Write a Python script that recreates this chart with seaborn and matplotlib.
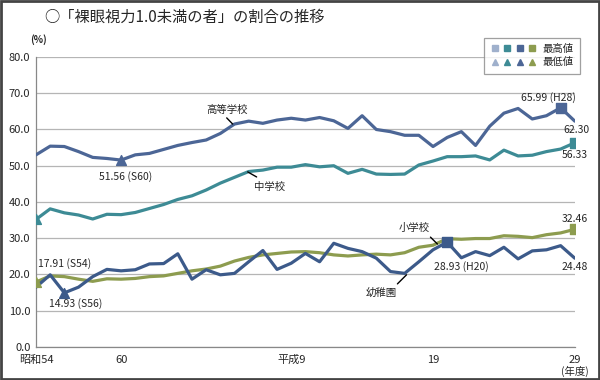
import pandas as pd
import numpy as np
import matplotlib
matplotlib.use('Agg')
import matplotlib.pyplot as plt
import seaborn as sns
from matplotlib.patches import Rectangle
from matplotlib.lines import Line2D
from matplotlib.legend_handler import HandlerTuple

# fiscal years S54 (1979) .. H29 (2017)
years = list(range(1979, 2018))

koko = [53.0, 55.4, 55.3, 53.9, 52.3, 52.0, 51.56, 53.0, 53.4, 54.5,
        55.6, 56.4, 57.1, 58.9, 61.5, 62.3, 61.7, 62.6, 63.1, 62.6,
        63.3, 62.4, 60.3, 63.8, 60.0, 59.4, 58.4, 58.4, 55.3, 57.8,
        59.4, 55.6, 60.9, 64.5, 65.8, 62.9, 63.8, 65.99, 62.30]
chugaku = [35.19, 38.1, 37.0, 36.4, 35.3, 36.6, 36.5, 37.1, 38.2, 39.3,
           40.7, 41.7, 43.3, 45.2, 46.8, 48.4, 48.8, 49.6, 49.6, 50.3,
           49.7, 50.0, 47.9, 49.0, 47.7, 47.6, 47.7, 50.2, 51.3, 52.5,
           52.5, 52.7, 51.6, 54.3, 52.7, 52.9, 53.9, 54.6, 56.33]
shogaku = [17.91, 19.6, 19.4, 18.7, 18.1, 18.8, 18.7, 18.9, 19.4, 19.6,
           20.3, 21.0, 21.5, 22.3, 23.7, 24.7, 25.4, 25.8, 26.2, 26.3,
           26.0, 25.4, 25.1, 25.4, 25.6, 25.4, 26.0, 27.5, 28.07, 29.87,
           29.71, 29.91, 29.91, 30.68, 30.52, 30.16, 30.97, 31.46, 32.46]
yochien = [16.5, 19.9, 14.93, 16.5, 19.4, 21.4, 21.0, 21.3, 22.9, 23.0,
           25.7, 18.7, 21.3, 19.9, 20.3, 23.5, 26.6, 21.4, 23.1, 25.8,
           23.5, 28.6, 27.2, 26.3, 24.5, 20.8, 20.3, 23.5, 26.8, 28.93,
           24.6, 26.3, 25.2, 27.5, 24.3, 26.5, 26.8, 27.94, 24.48]

schools = ['高等学校', '中学校', '小学校', '幼稚園']
colors = {'高等学校': '#4c6696', '中学校': '#3d8b95',
          '小学校': '#8d9c4f', '幼稚園': '#3c5a8a'}

df = pd.concat([
    pd.DataFrame({'year': years, 'value': koko, 'school': '高等学校'}),
    pd.DataFrame({'year': years, 'value': chugaku, 'school': '中学校'}),
    pd.DataFrame({'year': years, 'value': shogaku, 'school': '小学校'}),
    pd.DataFrame({'year': years, 'value': yochien, 'school': '幼稚園'}),
])

sns.set_style('white')
plt.rcParams['font.family'] = ['Noto Sans CJK JP', 'DejaVu Sans']

fig = plt.figure(figsize=(6, 3.8), dpi=100)
ax = fig.add_axes([0.06, 0.087, 0.898, 0.763])

sns.lineplot(data=df, x='year', y='value', hue='school', palette=colors,
             linewidth=2.3, legend=False, ax=ax, zorder=3)

# max (square) and min (triangle) markers
for s in schools:
    d = df[df['school'] == s]
    hi = d.loc[d['value'].idxmax()]
    lo = d.loc[d['value'].idxmin()]
    ax.scatter(hi['year'], hi['value'], marker='s', s=45, color=colors[s], zorder=4)
    ax.scatter(lo['year'], lo['value'], marker='^', s=50, color=colors[s], zorder=4)

ax.set_xlim(1979, 2017)
ax.set_ylim(0, 80)
ax.set_yticks(np.arange(0, 81, 10))
ax.set_yticklabels([f'{v:.1f}' for v in np.arange(0, 81, 10)], fontsize=8)
ax.set_xticks([1979, 1985, 1997, 2007, 2017])
ax.set_xticklabels(['昭和54', '60', '平成9', '19', '29'], fontsize=8)
ax.set_xticks(years, minor=True)
ax.tick_params(axis='x', which='both', direction='out', length=4, color='#888888',
               width=0.8, pad=1.5)
ax.tick_params(axis='y', length=0, pad=4)
ax.yaxis.grid(True, color='#b5b5b5', linewidth=0.9)
ax.set_axisbelow(True)
ax.set_xlabel('')
ax.set_ylabel('')
for side in ['top', 'right']:
    ax.spines[side].set_visible(False)
for side in ['left', 'bottom']:
    ax.spines[side].set_color('#888888')
    ax.spines[side].set_linewidth(0.9)

# value labels
fs = 7.5
ax.text(1985.3, 46.9, '51.56 (S60)', fontsize=fs, ha='center', va='center')
ax.text(2017.05, 68.7, '65.99 (H28)', fontsize=fs, ha='right', va='center')
ax.text(2017.1, 59.9, '62.30', fontsize=fs, ha='center', va='center')
ax.text(2017.0, 53.0, '56.33', fontsize=fs, ha='center', va='center')
ax.text(1979.14, 22.9, '17.91 (S54)', fontsize=fs, ha='left', va='center')
ax.text(1979.93, 11.9, '14.93 (S56)', fontsize=fs, ha='left', va='center')
ax.text(2007.1, 22.1, '28.93 (H20)', fontsize=fs, ha='left', va='center')
ax.text(2017.0, 35.3, '32.46', fontsize=fs, ha='center', va='center')
ax.text(2017.0, 22.1, '24.48', fontsize=fs, ha='center', va='center')

# series names with leader lines
names = [('高等学校', 1992.45, 65.4, (1992.45, 1992.87), (63.2, 61.5)),
         ('中学校', 1995.48, 44.1, (1993.93, 1994.56), (48.3, 46.9)),
         ('小学校', 2005.69, 32.8, (2006.82, 2007.31), (30.3, 28.4)),
         ('幼稚園', 2003.37, 14.9, (2004.49, 2005.13), (17.4, 19.9))]
for name, tx, ty, lx, ly in names:
    ax.text(tx, ty, name, fontsize=fs, ha='center', va='center')
    ax.plot(lx, ly, color='black', linewidth=1.0, zorder=5)

fig.text(0.05, 0.895, '(%)', fontsize=7, fontweight='bold', ha='left', va='center')
fig.text(0.958, 0.022, '(年度)', fontsize=7.5, ha='center', va='center')
fig.text(0.073, 0.955, '○「裸眼視力1.0未満の者」の割合の推移', fontsize=11,
         ha='left', va='center')

# legend: squares = max, triangles = min
leg_cols = ['#9fb0cc', '#3d8b95', '#4c6696', '#8d9c4f']
sq = tuple(Line2D([], [], marker='s', linestyle='', color=c, markersize=5) for c in leg_cols)
tr = tuple(Line2D([], [], marker='^', linestyle='', color=c, markersize=5) for c in leg_cols)
leg = fig.legend([sq, tr], ['最高値', '最低値'],
                 handler_map={tuple: HandlerTuple(ndivide=None, pad=0.4)},
                 loc='upper right', bbox_to_anchor=(0.975, 0.915),
                 fontsize=7.5, handlelength=4.4, frameon=True, fancybox=False,
                 borderpad=0.6, labelspacing=0.35, handletextpad=0.6)
leg.get_frame().set_edgecolor('#888888')
leg.get_frame().set_linewidth(0.9)

# outer frame
fig.patches.append(Rectangle((0.002, 0.003), 0.996, 0.994, transform=fig.transFigure,
                             fill=False, edgecolor='#444444', linewidth=2))

fig.savefig('out.png', dpi=100)
